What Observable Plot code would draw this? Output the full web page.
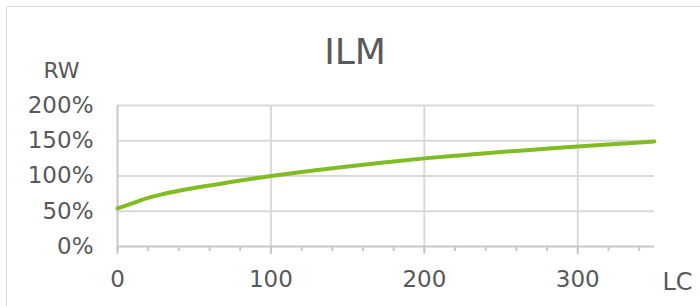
<!DOCTYPE html>
<html>
<head>
<meta charset="utf-8">
<script src="https://cdn.jsdelivr.net/npm/d3@7"></script>
<script src="https://cdn.jsdelivr.net/npm/@observablehq/plot@0.6"></script>
<style>
  html, body { margin: 0; padding: 0; background: #fff; overflow: hidden; width: 700px; height: 306px; }
  #wrap { position: relative; width: 700px; height: 306px; }
  #border { position: absolute; left: 6px; top: 6px; width: 800px; height: 400px; border: 1px solid #d9d9d9; border-radius: 3px; pointer-events: none; }
  #chart { position: absolute; left: 0; top: 0; }
</style>
</head>
<body>
<div id="wrap"><div id="border"></div><div id="chart"></div></div>
<script>
const titleText = "ILM";
const yLabel = "RW";
const xLabel = "LC";
const lc = [0, 10, 20, 30, 40, 50, 60, 70, 80, 90, 100, 125, 150, 175, 200, 225, 250, 275, 300, 325, 350];
const rw = [0.54, 0.615, 0.69, 0.745, 0.79, 0.83, 0.865, 0.90, 0.935, 0.968, 1.00, 1.07, 1.135, 1.195, 1.25, 1.295, 1.34, 1.38, 1.42, 1.455, 1.49];
const xTicks = [0, 100, 200, 300];
const xMinorTicks = [0, 20, 40, 60, 80, 100, 120, 140, 160, 180, 200, 220, 240, 260, 280, 300, 320, 340];
const yTicks = [0, 0.5, 1, 1.5, 2];

const data = lc.map((x, i) => ({lc: x, rw: rw[i]}));
const textColor = "#595959";
const gridColor = "#d9d9d9";
const axisColor = "#c8c8c8";
const font = "DejaVu Sans";

const chart = Plot.plot({
  width: 700,
  height: 306,
  marginLeft: 117,
  marginRight: 46,
  marginTop: 105,
  marginBottom: 60,
  style: {fontFamily: font, background: "transparent", overflow: "visible"},
  x: {domain: [0, 350]},
  y: {domain: [0, 2]},
  marks: [
    Plot.gridY(yTicks.filter(d => d > 0), {stroke: gridColor, strokeOpacity: 1, strokeWidth: 2}),
    Plot.gridX(xTicks.filter(d => d > 0), {stroke: gridColor, strokeOpacity: 1, strokeWidth: 2}),
    Plot.ruleX([0], {stroke: axisColor, strokeWidth: 2}),
    Plot.ruleY([0], {stroke: axisColor, strokeWidth: 2}),
    Plot.axisX(xMinorTicks, {tickSize: 5, text: null, stroke: axisColor, strokeWidth: 2, label: null}),
    Plot.axisX(xTicks, {tickSize: 8, text: null, stroke: axisColor, strokeWidth: 2, label: null}),
    Plot.axisX(xTicks, {tickSize: 0, tickPadding: 24, fontSize: 23, fill: textColor, label: null}),
    Plot.axisY(yTicks, {tickSize: 0, tickPadding: 24, fontSize: 23, fill: textColor, tickFormat: d3.format(".0%"), label: null}),
    Plot.line(data, {x: "lc", y: "rw", stroke: "#80bc24", strokeWidth: 4, curve: "catmull-rom"}),
    Plot.text([titleText], {frameAnchor: "top", textAnchor: "middle", lineAnchor: "bottom", dx: -31, dy: -42, fontSize: 36, fill: textColor}),
    Plot.text([yLabel], {frameAnchor: "top-left", textAnchor: "middle", lineAnchor: "bottom", dx: -56, dy: -28, fontSize: 22, fill: textColor}),
    Plot.text([xLabel], {frameAnchor: "bottom-right", textAnchor: "start", lineAnchor: "bottom", dx: 8, dy: 43, fontSize: 24, fill: textColor})
  ]
});
document.getElementById("chart").appendChild(chart);
</script>
</body>
</html>
